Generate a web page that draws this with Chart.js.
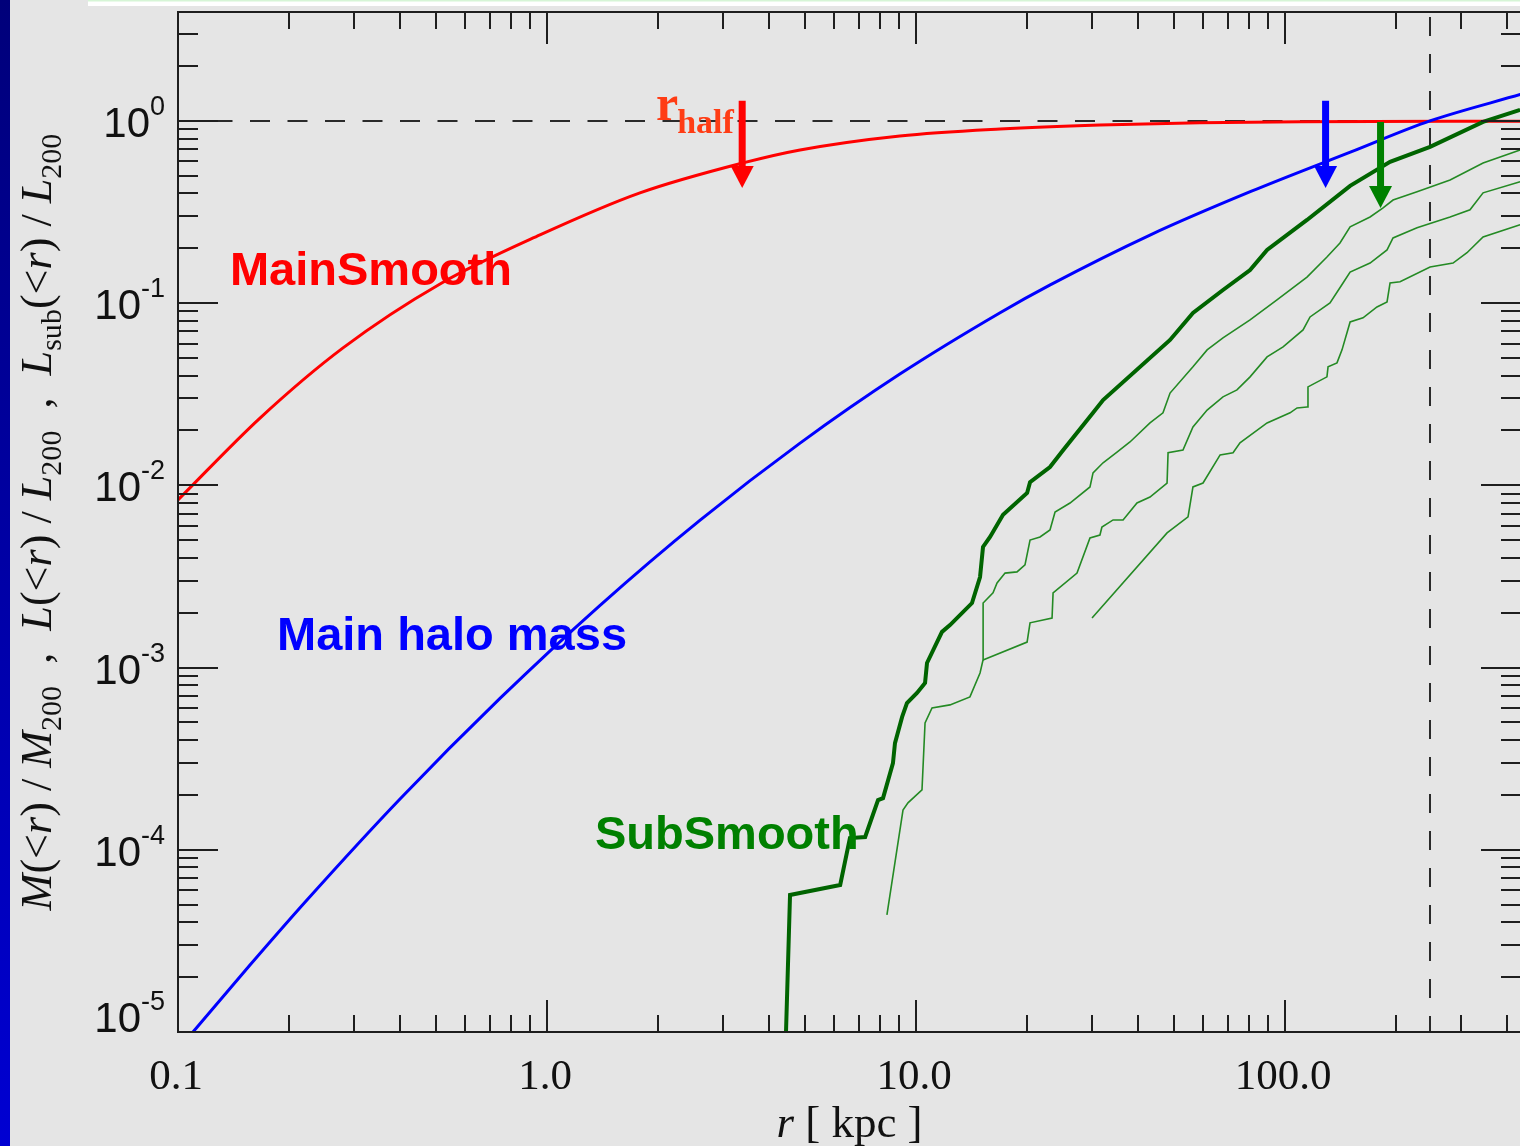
<!DOCTYPE html>
<html>
<head>
<meta charset="utf-8">
<style>
  html, body { margin: 0; padding: 0; overflow: hidden; background: #e5e5e5; }
  canvas { display: block; }
</style>
<script src="https://cdn.jsdelivr.net/npm/chart.js@4/dist/chart.umd.min.js"></script>
</head>
<body>
<canvas id="profile" width="1540" height="1146"></canvas>
<script>
// ---- cumulative profiles, r in kpc ----
const rMain = [0.1, 0.1668, 0.28, 0.513, 0.957, 1.786, 3.398, 4.85, 9.04, 16.9, 31.5, 58.8, 110, 436];
const mainSmooth = [8.32e-3, 2.34e-2, 5.68e-2, 0.1274, 0.2366, 0.4026, 0.5882, 0.693, 0.8275, 0.904, 0.951, 0.9775, 0.990, 0.996];

const rHalo = [0.1, 0.1098, 0.1567, 0.2236, 0.3996, 0.7456, 1.39, 2.59, 4.84, 9.04, 16.9, 23.1, 43.2, 80.8, 150.9, 247, 436];
const haloMass = [7.96e-6, 1.0e-5, 2.33e-5, 5.30e-5, 1.90e-4, 6.77e-4, 2.19e-3, 6.41e-3, 1.70e-2, 4.08e-2, 8.86e-2, 0.1259, 0.237, 0.410, 0.676, 1.0, 1.40];

// SubSmooth (all subhaloes)
const rSubAll = [4.42, 4.556, 6.23, 6.62, 7.28, 7.89, 8.14, 8.66, 8.77, 9.17, 9.45, 10.06, 10.58, 10.71, 11.76, 12.36, 14.18, 14.91, 15.19, 15.87, 17.21, 20.0, 20.37, 23.07, 25.03, 30.18, 32.13, 48.8, 56.3, 67.9, 80.4, 89.4, 114.7, 150.1, 192.6, 247.2, 344, 433.5];
const subAll = [7e-6, 5.65e-5, 6.41e-5, 1.16e-4, 1.175e-4, 1.875e-4, 1.92e-4, 2.99e-4, 3.85e-4, 5.36e-4, 6.39e-4, 7.26e-4, 8.24e-4, 1.06e-3, 1.57e-3, 1.71e-3, 2.26e-3, 3.14e-3, 4.59e-3, 5.21e-3, 6.89e-3, 9.08e-3, 1.04e-2, 1.26e-2, 1.56e-2, 2.50e-2, 2.94e-2, 6.28e-2, 8.83e-2, 0.118, 0.152, 0.196, 0.286, 0.440, 0.596, 0.720, 0.987, 1.149];

// luminosity-weighted subhalo profiles
const rSubB = [8.34, 9.22, 9.51, 10.38, 10.58, 11.05, 12.36, 14.0, 14.91, 15.19, 15.2, 15.48, 16.17, 16.58, 17.43, 18.78, 19.74, 20.37, 21.68, 23.07, 23.81, 26.14, 29.61, 30.18, 32.13, 35.05, 38.0, 43.06, 46.7, 48.8, 56.3, 61.5, 67.9, 80.4, 95.1, 114.7, 129.9, 140.9, 150.1, 170.0, 184.4, 196.2, 227.9, 280.1, 344.1, 433.5];
const subB = [4.39e-5, 1.65e-4, 1.81e-4, 2.13e-4, 4.97e-4, 6.00e-4, 6.24e-4, 6.90e-4, 9.33e-4, 1.10e-3, 2.26e-3, 2.35e-3, 2.57e-3, 2.91e-3, 3.30e-3, 3.35e-3, 3.66e-3, 5.01e-3, 5.21e-3, 5.69e-3, 7.14e-3, 8.00e-3, 9.80e-3, 1.17e-2, 1.33e-2, 1.52e-2, 1.73e-2, 2.20e-2, 2.50e-2, 3.21e-2, 4.47e-2, 5.54e-2, 6.44e-2, 8.09e-2, 0.1041, 0.139, 0.179, 0.214, 0.262, 0.297, 0.333, 0.368, 0.408, 0.474, 0.588, 0.693];

const rSubC = [15.19, 20.0, 20.37, 23.37, 23.52, 27.31, 29.61, 31.51, 31.9, 34.2, 36.4, 39.7, 43.06, 47.9, 48.2, 52.9, 56.3, 61.5, 67.9, 74.1, 80.4, 89.4, 98.8, 111.9, 116.9, 132.4, 143.6, 150.1, 170.0, 189.0, 196.2, 227.9, 280.1, 317.2, 344.1, 433.5];
const subC = [1.10e-3, 1.38e-3, 1.76e-3, 1.87e-3, 2.57e-3, 3.30e-3, 5.14e-3, 5.34e-3, 5.91e-3, 6.46e-3, 6.46e-3, 8.00e-3, 8.63e-3, 1.03e-2, 1.51e-2, 1.56e-2, 2.09e-2, 2.59e-2, 3.06e-2, 3.34e-2, 3.94e-2, 5.07e-2, 5.75e-2, 7.13e-2, 8.40e-2, 0.1003, 0.129, 0.148, 0.166, 0.196, 0.228, 0.259, 0.297, 0.325, 0.403, 0.463];

const rSubD = [29.99, 47.9, 54.6, 56.3, 59.95, 66.7, 72.3, 75.5, 89.4, 103.2, 107.8, 114.7, 115.4, 129.9, 130.8, 138.3, 142.7, 150.1, 162.7, 177.5, 189.0, 192.6, 205.0, 247.2, 285.3, 311.3, 344.1, 433.5];
const subD = [1.87e-3, 5.48e-3, 6.71e-3, 9.80e-3, 1.03e-2, 1.47e-2, 1.51e-2, 1.71e-2, 2.20e-2, 2.50e-2, 2.66e-2, 2.69e-2, 3.47e-2, 3.94e-2, 4.47e-2, 4.70e-2, 5.54e-2, 7.88e-2, 8.30e-2, 9.53e-2, 0.1016, 0.129, 0.131, 0.158, 0.166, 0.189, 0.231, 0.269];

// half-light / half-mass radii markers: [r, arrow top, arrow tip]
const arrowR = [3.38, 128.8, 181.5];
const arrowTop = [1.29, 1.29, 0.987];
const arrowTip = [0.429, 0.429, 0.333];
const arrowColor = ['#ff0000', '#0000ff', '#008000'];

const r200 = 247;

// axis ticks
const xTickValues = [0.1, 1, 10, 100];
const xTickLabels = ['0.1', '1.0', '10.0', '100.0'];
const yTickExps = [0, -1, -2, -3, -4, -5];

const xMin = 0.1, xMax = 436, yMin = 1e-5, yMax = 3.96;

const pts = (xs, ys) => xs.map((x, i) => ({ x: x, y: ys[i] }));

const SANS = '"Liberation Sans", Arial, sans-serif';
const SERIF = '"Liberation Serif", "Times New Roman", serif';

function richWidth(ctx, segs, size) {
  let w = 0;
  for (const s of segs) {
    const fs = s.sub ? size * 0.68 : size;
    ctx.font = (s.it ? 'italic ' : '') + fs + 'px ' + SERIF;
    w += ctx.measureText(s.t).width;
  }
  return w;
}
function drawRich(ctx, segs, x, y, size) {
  ctx.textAlign = 'left';
  ctx.textBaseline = 'alphabetic';
  for (const s of segs) {
    const fs = s.sub ? size * 0.68 : size;
    ctx.font = (s.it ? 'italic ' : '') + fs + 'px ' + SERIF;
    ctx.fillText(s.t, x, y + (s.sub ? size * 0.22 : 0));
    x += ctx.measureText(s.t).width;
  }
}

const yTitle = [
  { t: 'M', it: true }, { t: '(<' }, { t: 'r', it: true }, { t: ') / ' }, { t: 'M', it: true }, { t: '200', sub: true },
  { t: '  ,  ' },
  { t: 'L', it: true }, { t: '(<' }, { t: 'r', it: true }, { t: ') / ' }, { t: 'L', it: true }, { t: '200', sub: true },
  { t: '  ,  ' },
  { t: 'L', it: true }, { t: 'sub', sub: true }, { t: '(<' }, { t: 'r', it: true }, { t: ') / ' }, { t: 'L', it: true }, { t: '200', sub: true }
];
const xTitle = [{ t: 'r', it: true }, { t: ' [ kpc ]' }];

const decor = {
  id: 'decor',
  beforeDraw(chart) {
    const { ctx, width, height } = chart;
    ctx.save();
    ctx.fillStyle = '#e5e5e5';
    ctx.fillRect(0, 0, width, height);
    const g = ctx.createLinearGradient(0, 0, 0, height);
    g.addColorStop(0, '#00007a');
    g.addColorStop(1, '#0000d2');
    ctx.fillStyle = g;
    ctx.fillRect(0, 0, 10, height);
    ctx.fillStyle = '#ffffff';
    ctx.fillRect(88, 0, width - 88, 6);
    ctx.fillStyle = '#d6f5d6';
    ctx.fillRect(88, 0, width - 88, 1.5);
    ctx.restore();
  },
  beforeDatasetsDraw(chart) {
    const { ctx, chartArea: a, scales: { x: xs, y: ys } } = chart;
    ctx.save();
    ctx.strokeStyle = '#2a2a2a';
    ctx.lineWidth = 2;
    // unit level
    const yu = Math.round(ys.getPixelForValue(1));
    ctx.setLineDash([20, 17.5]);
    ctx.lineDashOffset = 3;
    ctx.beginPath(); ctx.moveTo(a.left, yu); ctx.lineTo(a.right, yu); ctx.stroke();
    // r200
    const xv = Math.round(xs.getPixelForValue(r200));
    ctx.setLineDash([19, 18]);
    ctx.lineDashOffset = 32;
    ctx.beginPath(); ctx.moveTo(xv, a.top); ctx.lineTo(xv, a.bottom); ctx.stroke();
    ctx.restore();
  },
  afterDatasetsDraw(chart) {
    const { ctx, chartArea: a, scales: { x: xs, y: ys } } = chart;
    ctx.save();
    ctx.strokeStyle = '#1e1e1e';
    ctx.lineWidth = 2;
    ctx.setLineDash([]);
    ctx.strokeRect(a.left, a.top, a.right - a.left, a.bottom - a.top);
    ctx.beginPath();
    // x ticks, bottom and top, pointing inwards
    for (let d = -1; d <= 2; d++) {
      for (let m = 1; m <= 9; m++) {
        const v = m * Math.pow(10, d);
        if (v < xMin * 0.999 || v > xMax) continue;
        const px = Math.round(xs.getPixelForValue(v));
        const len = m === 1 ? 32 : 17;
        ctx.moveTo(px, a.bottom); ctx.lineTo(px, a.bottom - len);
        ctx.moveTo(px, a.top); ctx.lineTo(px, a.top + len);
      }
    }
    // y ticks, left and right
    for (let d = -5; d <= 0; d++) {
      for (let m = 1; m <= 9; m++) {
        const v = m * Math.pow(10, d);
        if (v > yMax) continue;
        const py = Math.round(ys.getPixelForValue(v));
        const len = m === 1 ? 40 : 20;
        ctx.moveTo(a.left, py); ctx.lineTo(a.left + len, py);
        ctx.moveTo(a.right, py); ctx.lineTo(a.right - len, py);
      }
    }
    ctx.stroke();

    // radius arrows
    for (let i = 0; i < arrowR.length; i++) {
      const x = xs.getPixelForValue(arrowR[i]);
      const yt = ys.getPixelForValue(arrowTop[i]);
      const yp = ys.getPixelForValue(arrowTip[i]);
      const head = 22;
      ctx.fillStyle = arrowColor[i];
      ctx.fillRect(x - 3.5, yt, 7, yp - head - yt + 1);
      ctx.beginPath();
      ctx.moveTo(x - 11.5, yp - head);
      ctx.lineTo(x + 11.5, yp - head);
      ctx.lineTo(x, yp);
      ctx.closePath();
      ctx.fill();
    }
    ctx.restore();
  },
  afterDraw(chart) {
    const { ctx, chartArea: a, scales: { x: xs, y: ys } } = chart;
    ctx.save();
    ctx.fillStyle = '#111111';
    // x tick labels
    ctx.font = '43px ' + SERIF;
    ctx.textAlign = 'center';
    ctx.textBaseline = 'alphabetic';
    xTickValues.forEach((v, i) => {
      ctx.fillText(xTickLabels[i], xs.getPixelForValue(v) - 2, a.bottom + 57);
    });
    // y tick labels: 10 with exponent
    yTickExps.forEach(e => {
      const py = ys.getPixelForValue(Math.pow(10, e));
      const base = Math.min(py + 16, a.bottom);
      ctx.textAlign = 'right';
      ctx.font = '27px ' + SANS;
      const ex = String(e);
      const ew = ctx.measureText(ex).width;
      ctx.fillText(ex, 165, base - 22);
      ctx.font = '42px ' + SANS;
      ctx.fillText('10', 165 - ew, base);
    });
    // axis titles
    const cx = (a.left + a.right) / 2;
    const wx = richWidth(ctx, xTitle, 45);
    drawRich(ctx, xTitle, cx - wx / 2, 1137, 45);

    const wy = richWidth(ctx, yTitle, 45);
    const fsY = 45 * 777 / wy;
    const wy2 = richWidth(ctx, yTitle, fsY);
    ctx.save();
    ctx.translate(51, 522);
    ctx.rotate(-Math.PI / 2);
    drawRich(ctx, yTitle, -wy2 / 2, 0, fsY);
    ctx.restore();

    // curve labels
    ctx.textAlign = 'left';
    ctx.font = 'bold 47px ' + SANS;
    ctx.fillStyle = '#ff0000';
    ctx.fillText('MainSmooth', xs.getPixelForValue(0.1383), ys.getPixelForValue(0.1259));
    ctx.fillStyle = '#0000ff';
    ctx.fillText('Main halo mass', xs.getPixelForValue(0.1855), ys.getPixelForValue(1.25e-3));
    ctx.fillStyle = '#008000';
    ctx.fillText('SubSmooth', xs.getPixelForValue(1.349), ys.getPixelForValue(1.01e-4));

    // r_half
    ctx.fillStyle = '#ff3c14';
    const rx = xs.getPixelForValue(1.974);
    const ry = ys.getPixelForValue(1.013);
    ctx.font = 'bold 50px ' + SERIF;
    ctx.fillText('r', rx, ry);
    const rw = ctx.measureText('r').width;
    ctx.font = 'bold 34px ' + SERIF;
    ctx.fillText('half', rx + rw - 1, ry + 13);
    ctx.restore();
  }
};

new Chart(document.getElementById('profile'), {
  type: 'scatter',
  data: {
    datasets: [
      { label: 'SubSmooth', data: pts(rSubAll, subAll), borderColor: '#006400', borderWidth: 4 },
      { label: 'L_sub (1)', data: pts(rSubB, subB), borderColor: '#248a24', borderWidth: 1.6 },
      { label: 'L_sub (2)', data: pts(rSubC, subC), borderColor: '#248a24', borderWidth: 1.6 },
      { label: 'L_sub (3)', data: pts(rSubD, subD), borderColor: '#248a24', borderWidth: 1.6 },
      { label: 'Main halo mass', data: pts(rHalo, haloMass), borderColor: '#0000ff', borderWidth: 3, cubicInterpolationMode: 'monotone' },
      { label: 'MainSmooth', data: pts(rMain, mainSmooth), borderColor: '#ff0000', borderWidth: 3, cubicInterpolationMode: 'monotone' }
    ].map(d => Object.assign({ showLine: true, pointRadius: 0, fill: false, tension: 0 }, d))
  },
  options: {
    responsive: false,
    devicePixelRatio: 1,
    animation: false,
    events: [],
    layout: { padding: { left: 178, top: 12, right: 19, bottom: 114 } },
    plugins: { legend: { display: false }, tooltip: { enabled: false } },
    scales: {
      x: { type: 'logarithmic', min: xMin, max: xMax, display: false },
      y: { type: 'logarithmic', min: yMin, max: yMax, display: false }
    }
  },
  plugins: [decor]
});
</script>
</body>
</html>
